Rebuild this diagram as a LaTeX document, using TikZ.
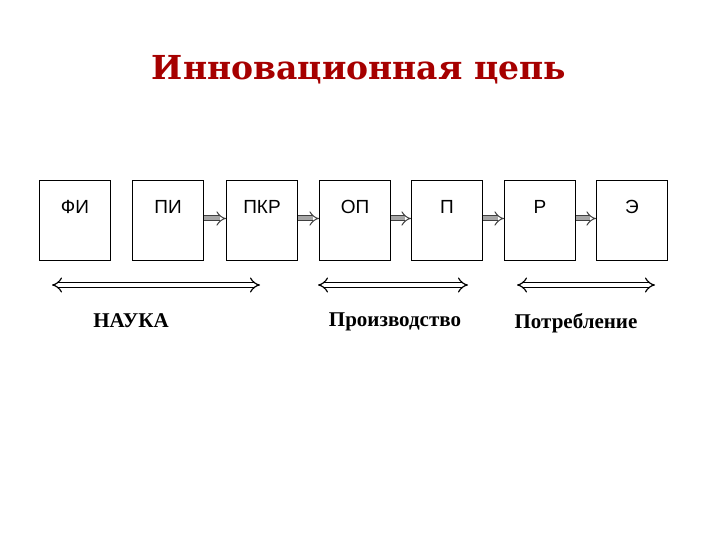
\documentclass[tikz,border=0pt]{standalone}
\usepackage{fontspec}
\setmainfont{Liberation Serif}
\newfontfamily\boxfont{Liberation Sans}
\newfontfamily\titlefont{DejaVu Serif}
\usetikzlibrary{arrows.meta}
\begin{document}
\begin{tikzpicture}[x=1pt,y=-1pt,
  blk/.style={draw,line width=1pt,minimum width=71pt,minimum height=80pt,anchor=north west,inner sep=0},
  blab/.style={font=\boxfont\fontsize{19}{19}\selectfont},
  conn/.style={draw=black!75,double=black!35,double distance=4pt,line width=1pt,-{Implies[length=6pt]}},
  wide/.style={draw,line width=1.2pt,double=white,double distance=4pt,{Implies[length=20pt,width=18pt]}-{Implies[length=20pt,width=18pt]}},
  lab/.style={font=\bfseries\fontsize{21}{21}\selectfont}]
\useasboundingbox (0,0) rectangle (720,540);
\node (title)[font=\titlefont\bfseries\fontsize{33}{33}\selectfont,text=red!65!black] at (359,70) {Инновационная цепь};
\foreach \n/\x/\t in {a/39/ФИ,b/132/ПИ,c/226/ПКР,d/319/ОП,e/411/П,f/504/Р,g/596/Э}{
  \node[blk] (\n) at (\x,180) {};
  \node[blab] (\n l) at ([yshift=-27pt]\n.north) {\t};
}
\foreach \p/\q in {b/c,c/d,d/e,e/f,f/g}{
  \draw[conn] ([yshift=2pt]\p.east) -- ([yshift=2pt]\q.west);
}
\coordinate (s1) at (52,285); \coordinate (e1) at (260,285);
\coordinate (s2) at (318,285); \coordinate (e2) at (468,285);
\coordinate (s3) at (517,285); \coordinate (e3) at (655,285);
\draw[wide] (s1) -- (e1);
\draw[wide] (s2) -- (e2);
\draw[wide] (s3) -- (e3);
\node[lab] (n1) at (131,321) {НАУКА};
\node[lab] (n2) at (395,322) {Производство};
\node[lab] (n3) at (576,323) {Потребление};
\end{tikzpicture}
\end{document}
